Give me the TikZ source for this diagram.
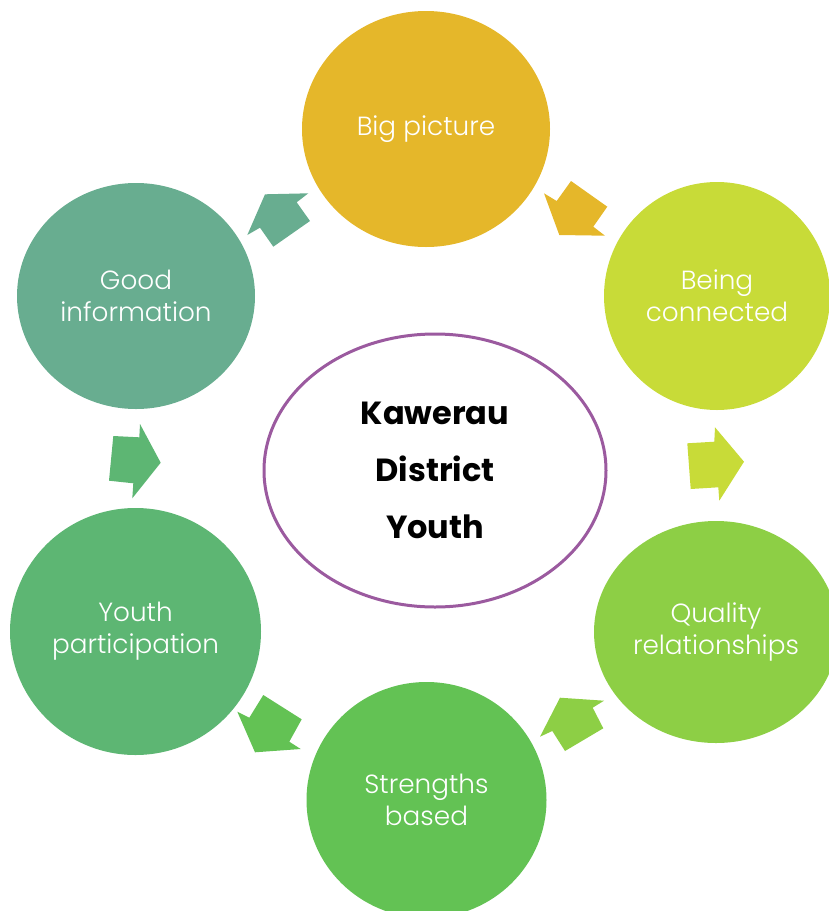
\documentclass[tikz,border=0pt]{standalone}
\usepackage{fontspec}
\setmainfont{Poppins}[UprightFont={* Light}, BoldFont={* Bold}]
\usetikzlibrary{shapes.geometric}
\definecolor{cBig}{HTML}{E5B72A}
\definecolor{cBeing}{HTML}{C8DB38}
\definecolor{cQual}{HTML}{8DCF45}
\definecolor{cStr}{HTML}{63C254}
\definecolor{cYouth}{HTML}{5DB673}
\definecolor{cGood}{HTML}{68AD90}
\definecolor{cPurple}{HTML}{9B5A9F}
\tikzset{
  bubble/.style={ellipse, inner sep=0pt, text=white, align=center,
    font=\fontsize{26.3}{32}\selectfont},
}
\begin{document}
\begin{tikzpicture}[x=1pt,y=-1pt]
\useasboundingbox (0,0) rectangle (828,911);
% circles
\node[bubble, fill=cBig, minimum width=248pt, minimum height=236pt] (big) at (426,129) {Big picture};
\node[bubble, fill=cBeing, minimum width=226pt, minimum height=228pt] (being) at (717,296) {Being\\connected};
\node[bubble, fill=cQual, minimum width=244pt, minimum height=222pt] (qual) at (716,632) {Quality\\relationships};
\node[bubble, fill=cStr, minimum width=240pt, minimum height=236pt] (str) at (426.5,800) {Strengths\\based};
\node[bubble, fill=cYouth, minimum width=251pt, minimum height=247pt] (youth) at (135.5,631.5) {Youth\\participation};
\node[bubble, fill=cGood, minimum width=238pt, minimum height=226pt] (good) at (136,296) {Good\\information};
% centre
\node[ellipse, draw=cPurple, line width=3pt, fill=white, minimum width=342pt, minimum height=273pt,
  align=center, font=\bfseries\fontsize{32}{57}\selectfont] (centre) at (435,470.5) {Kawerau\\District\\Youth};
% block arrows
\fill[cGood] (265,194.3) -- (308.3,193.3) -- (296.7,202.3) -- (310,221) -- (273.3,246.7) -- (260,227.7) -- (247.3,235) -- cycle;
\fill[cBig] (544,193.3) -- (556.7,201) -- (571,181) -- (607.3,206.7) -- (593.3,226.7) -- (605,235.7) -- (559.3,235) -- cycle;
\fill[cBeing] (687.3,443.3) -- (714.3,441.7) -- (715,427.3) -- (744,461.7) -- (719.3,500.7) -- (718.3,487.3) -- (690.7,489) -- cycle;
\fill[cQual] (560,697.7) -- (604,700.7) -- (592.7,707.7) -- (603.3,728.3) -- (565,751) -- (552.3,731) -- (540,736.7) -- cycle;
\fill[cStr] (237.3,711.7) -- (249.3,717.7) -- (263.3,695) -- (301.7,719.3) -- (289.3,741.7) -- (300.7,749) -- (255,752.3) -- cycle;
\fill[cYouth] (113.3,436) -- (139.3,437.3) -- (140,424) -- (160.7,462.7) -- (132.3,498.3) -- (133.3,483.3) -- (109,480.7) -- cycle;
\end{tikzpicture}
\end{document}
